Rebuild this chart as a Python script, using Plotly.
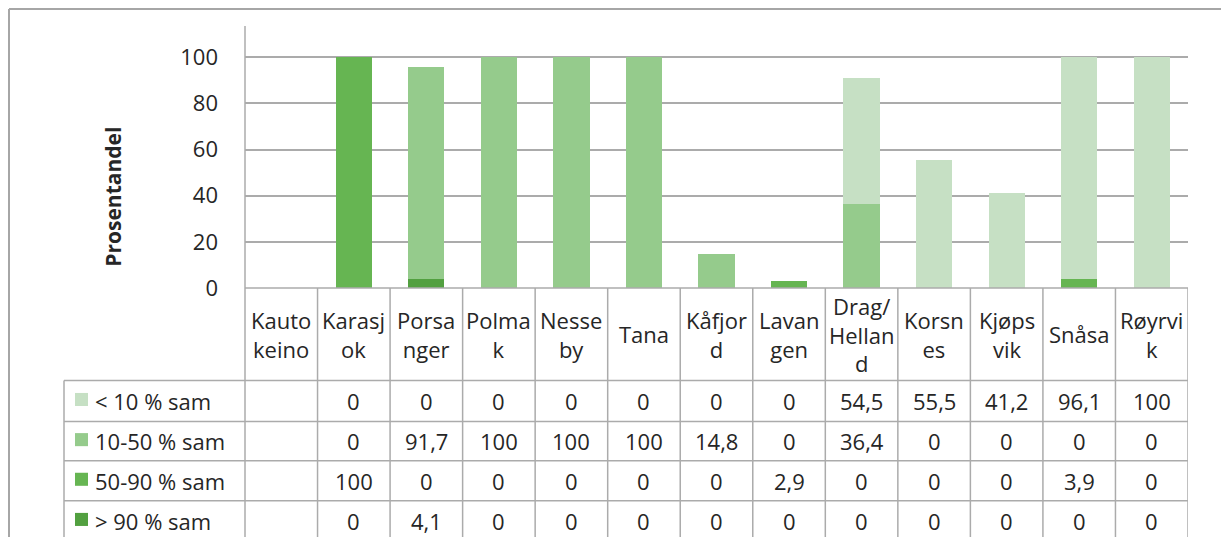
import plotly.graph_objects as go

# ---- data ----
categories = ["Kautokeino", "Karasjok", "Porsanger", "Polmak", "Nesseby", "Tana", "Kåfjord",
              "Lavangen", "Drag/Helland", "Korsnes", "Kjøpsvik", "Snåsa", "Røyrvik"]
header_labels = ["Kauto<br>keino", "Karasj<br>ok", "Porsa<br>nger", "Polma<br>k", "Nesse<br>by", "Tana",
                 "Kåfjor<br>d", "Lavan<br>gen", "Drag/<br>Hellan<br>d", "Korsn<br>es", "Kjøps<br>vik",
                 "Snåsa", "Røyrvi<br>k"]
series_names = ["< 10 % sam", "10-50 % sam", "50-90 % sam", "> 90 % sam"]
lt10 = [None, 0, 0, 0, 0, 0, 0, 0, 54.5, 55.5, 41.2, 96.1, 100]
s10_50 = [None, 0, 91.7, 100, 100, 100, 14.8, 0, 36.4, 0, 0, 0, 0]
s50_90 = [None, 100, 0, 0, 0, 0, 0, 2.9, 0, 0, 0, 3.9, 0]
gt90 = [None, 0, 4.1, 0, 0, 0, 0, 0, 0, 0, 0, 0, 0]
y_ticks = [0, 20, 40, 60, 80, 100]

colors = ["#C6E0C4", "#95CB8C", "#66B552", "#52A040"]
series_vals = [lt10, s10_50, s50_90, gt90]

W, H = 1221, 537          # design (reference) pixel space
FIG_H = 553               # rendered height
FONT = "Open Sans"
TXT = "#262626"
LINE = "#ABABAB"
FS = 22


def py(p):  # reference pixel y -> paper
    return (H - p) / H


def px(p):
    return p / W


fig = go.Figure()
# stacked bottom-up: > 90, 50-90, 10-50, < 10
for name, vals, col in reversed(list(zip(series_names, series_vals, colors))):
    fig.add_trace(go.Bar(x=categories, y=vals, name=name, marker=dict(color=col, line=dict(width=0))))

x0p, x1p = 245, 1188
y0p, ytop = 287, 26
fig.update_layout(
    width=W, height=FIG_H, autosize=False, barmode="stack", bargap=0.5,
    margin=dict(l=0, r=0, t=0, b=0),
    paper_bgcolor="white", plot_bgcolor="white",
    showlegend=False,
    font=dict(family=FONT, size=FS, color=TXT),
    xaxis=dict(domain=[px(x0p), px(x1p)], range=[-0.5, len(categories) - 0.5],
               showticklabels=False, showgrid=False, zeroline=False, showline=False, ticks=""),
    yaxis=dict(domain=[py(y0p), py(ytop)], range=[0, 113.5], tickvals=y_ticks,
               showgrid=True, gridcolor=LINE, gridwidth=1.5, zeroline=False, showline=False,
               ticks="", ticklabelstandoff=26, tickfont=dict(family=FONT, size=FS, color=TXT)),
)

shapes = []
# outer chart border
shapes.append(dict(type="line", xref="paper", yref="paper", x0=px(9), x1=1, y0=py(9), y1=py(9),
                   line=dict(color="#A6A6A6", width=2)))
shapes.append(dict(type="line", xref="paper", yref="paper", x0=px(9), x1=px(9), y0=py(9), y1=0,
                   line=dict(color="#A6A6A6", width=2)))
# y axis line (continues as table border)
shapes.append(dict(type="line", xref="paper", yref="paper", x0=px(x0p), x1=px(x0p), y0=py(ytop), y1=0,
                   line=dict(color=LINE, width=1.5)))
# x axis line
shapes.append(dict(type="line", xref="paper", yref="paper", x0=px(x0p), x1=px(x1p), y0=py(y0p), y1=py(y0p),
                   line=dict(color=LINE, width=1.5)))
# category vertical borders
for i in range(len(categories)):
    shapes.append(dict(type="line", xref="x", yref="paper", x0=i + 0.5, x1=i + 0.5, y0=py(y0p), y1=0,
                       line=dict(color=LINE, width=1.5)))
# row lines
row_lines = [379, 420, 459, 499]
for r in row_lines:
    shapes.append(dict(type="line", xref="paper", yref="paper", x0=px(64), x1=px(x1p), y0=py(r), y1=py(r),
                       line=dict(color=LINE, width=1.5)))
# legend column left border
shapes.append(dict(type="line", xref="paper", yref="paper", x0=px(64), x1=px(64), y0=py(379), y1=0,
                   line=dict(color=LINE, width=1.5)))

annotations = []
# y axis title
annotations.append(dict(text="<b>Prosentandel</b>", xref="paper", yref="paper", x=px(113), y=py(196),
                        xanchor="center", yanchor="middle",
                        textangle=-90, showarrow=False, font=dict(family=FONT, size=21, color=TXT)))
# header labels
for cat, lab in zip(categories, header_labels):
    annotations.append(dict(text=lab, xref="x", yref="paper", x=cat, y=py(333), showarrow=False,
                            xanchor="center", yanchor="middle", font=dict(family=FONT, size=FS, color=TXT)))

row_centers = [399.5, 439.5, 479, 519]


def fmt(v):
    if v is None:
        return ""
    if float(v).is_integer():
        return str(int(v))
    return str(v).replace(".", ",")


for rc, name, vals, col in zip(row_centers, series_names, series_vals, colors):
    # legend key square
    shapes.append(dict(type="rect", xref="paper", yref="paper", x0=px(75), x1=px(88),
                       y0=py(rc - 8), y1=py(rc + 5), fillcolor=col, line=dict(width=0)))
    annotations.append(dict(text=name, xref="paper", yref="paper", x=px(93), y=py(rc), showarrow=False,
                            xanchor="left", yanchor="middle", font=dict(family=FONT, size=FS, color=TXT)))
    for cat, v in zip(categories, vals):
        t = fmt(v)
        if t:
            annotations.append(dict(text=t, xref="x", yref="paper", x=cat, y=py(rc), showarrow=False,
                                    xanchor="center", yanchor="middle",
                                    font=dict(family=FONT, size=FS, color=TXT)))

fig.update_layout(shapes=shapes, annotations=annotations)
fig.write_html("out.html", config={"displayModeBar": False, "responsive": False},
               post_script="document.body.style.margin='0';document.body.style.overflow='hidden';")
